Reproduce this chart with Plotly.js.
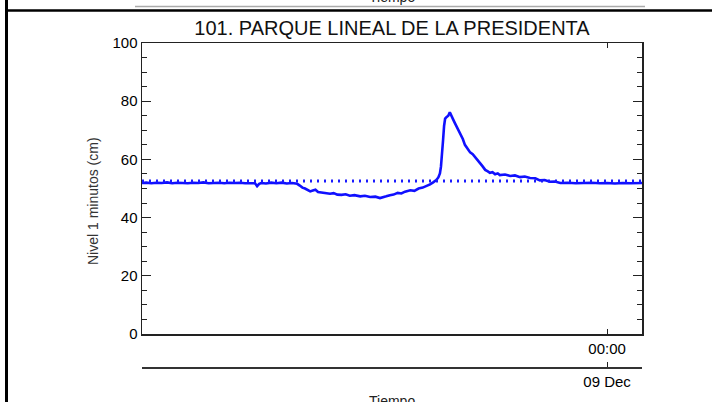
<!DOCTYPE html>
<html>
<head>
<meta charset="utf-8">
<script src="https://cdn.plot.ly/plotly-3.0.1.min.js"></script>
<style>html,body{margin:0;padding:0;background:#fff;}#chart{width:712px;height:402px;}</style>
</head>
<body>
<div id="chart"></div>
<script>
// ---- data ----
const tiempo = [
  "2023-12-08 09:07","2023-12-08 09:15","2023-12-08 09:25","2023-12-08 09:35","2023-12-08 09:45",
  "2023-12-08 09:55","2023-12-08 10:05","2023-12-08 10:15","2023-12-08 10:25","2023-12-08 10:35",
  "2023-12-08 10:45","2023-12-08 10:55","2023-12-08 11:05","2023-12-08 11:15","2023-12-08 11:25",
  "2023-12-08 11:35","2023-12-08 11:45","2023-12-08 11:55","2023-12-08 12:05","2023-12-08 12:15",
  "2023-12-08 12:25","2023-12-08 12:35","2023-12-08 12:44","2023-12-08 12:48","2023-12-08 12:52",
  "2023-12-08 12:56","2023-12-08 13:05","2023-12-08 13:15","2023-12-08 13:25","2023-12-08 13:35",
  "2023-12-08 13:45","2023-12-08 13:55","2023-12-08 14:05","2023-12-08 14:10","2023-12-08 14:15",
  "2023-12-08 14:20","2023-12-08 14:25","2023-12-08 14:30","2023-12-08 14:35","2023-12-08 14:40",
  "2023-12-08 14:45","2023-12-08 14:52","2023-12-08 15:00","2023-12-08 15:08","2023-12-08 15:15",
  "2023-12-08 15:22","2023-12-08 15:30","2023-12-08 15:38","2023-12-08 15:46","2023-12-08 15:55",
  "2023-12-08 16:06","2023-12-08 16:15","2023-12-08 16:25","2023-12-08 16:35","2023-12-08 16:44",
  "2023-12-08 16:50","2023-12-08 16:56","2023-12-08 17:03","2023-12-08 17:10","2023-12-08 17:18",
  "2023-12-08 17:25","2023-12-08 17:32","2023-12-08 17:42","2023-12-08 17:50","2023-12-08 17:58",
  "2023-12-08 18:06","2023-12-08 18:14","2023-12-08 18:20","2023-12-08 18:26","2023-12-08 18:32",
  "2023-12-08 18:36","2023-12-08 18:39","2023-12-08 18:41","2023-12-08 18:43","2023-12-08 18:45",
  "2023-12-08 18:47","2023-12-08 18:49","2023-12-08 18:52","2023-12-08 18:55","2023-12-08 18:58",
  "2023-12-08 19:01","2023-12-08 19:05","2023-12-08 19:08","2023-12-08 19:12","2023-12-08 19:18",
  "2023-12-08 19:23","2023-12-08 19:27","2023-12-08 19:32","2023-12-08 19:37","2023-12-08 19:42",
  "2023-12-08 19:46","2023-12-08 19:51","2023-12-08 19:56","2023-12-08 20:01","2023-12-08 20:06",
  "2023-12-08 20:11","2023-12-08 20:15","2023-12-08 20:20","2023-12-08 20:25","2023-12-08 20:30",
  "2023-12-08 20:34","2023-12-08 20:44","2023-12-08 20:54","2023-12-08 21:03","2023-12-08 21:13",
  "2023-12-08 21:22","2023-12-08 21:32","2023-12-08 21:42","2023-12-08 21:51","2023-12-08 22:00",
  "2023-12-08 22:10","2023-12-08 22:20","2023-12-08 22:30","2023-12-08 22:45","2023-12-08 23:00",
  "2023-12-08 23:15","2023-12-08 23:30","2023-12-08 23:46","2023-12-09 00:00","2023-12-09 00:15",
  "2023-12-09 00:30","2023-12-09 00:45","2023-12-09 01:07"
];
const nivel = [
  51.9, 52.0, 51.8, 52.0, 51.9,
  52.1, 51.8, 52.0, 51.9, 51.8,
  52.0, 51.9, 52.1, 51.8, 51.9,
  52.0, 51.8, 52.0, 51.9, 52.0,
  51.8, 51.9, 51.8, 50.8, 51.6,
  51.9, 51.7, 52.0, 51.8, 52.0,
  51.7, 51.9, 51.6, 51.0, 50.3,
  50.0, 49.5, 49.0, 49.3, 49.6,
  48.8, 48.6, 48.5, 48.2, 48.4,
  47.9, 47.8, 48.0, 47.5, 47.7,
  47.3, 47.5, 47.1, 47.2, 46.7,
  46.9, 47.3, 47.7, 47.9, 48.5,
  48.3, 48.9, 49.4, 49.2, 50.0,
  50.3, 50.8, 51.4, 52.1, 52.9,
  53.8, 55.2, 57.5, 61.0, 66.5,
  71.5, 74.0, 74.6, 75.0, 76.2,
  74.8, 73.5, 72.4, 71.0, 69.0,
  67.0, 65.0, 63.6, 62.4, 61.8,
  60.8, 59.8, 58.7, 57.6, 56.4,
  55.9, 55.4, 55.6, 54.9, 55.2,
  54.6, 54.8, 54.3, 54.5, 53.9,
  54.1, 53.6, 53.5, 52.8, 52.9,
  52.3, 52.4, 51.9, 52.0, 51.8,
  51.9, 52.0, 51.8, 51.9, 51.7,
  51.9, 51.8, 51.9
];
const referencia = [52.6, 52.6];
const rangoTiempo = ["2023-12-08 09:07", "2023-12-09 01:07"];
const ticksTiempo = ["2023-12-09 00:00"];
const etiquetaHora = ["00:00"];
const etiquetaDia = ["09 Dec"];

// ---- layout helpers (pixel -> paper) ----
const W = 712, H = 402, mL = 142, mR = 70, mT = 43, mB = 35;
const pw = W - mL - mR, ph = H - mT - mB;
const px = x => (x - mL) / pw;
const py = y => (H - mB - y) / ph;

const fam = "Liberation Sans, Arial, sans-serif";

const traces = [
  {x: rangoTiempo, y: referencia, xaxis: "x2", yaxis: "y", mode: "lines",
   line: {color: "#1a1aff", width: 3, dash: "2px,5px"}, hoverinfo: "skip"},
  {x: tiempo, y: nivel, xaxis: "x", yaxis: "y", mode: "lines",
   line: {color: "#1010ff", width: 2.6}}
];

const tickFont = {family: fam, size: 15, color: "#000"};

const layout = {
  width: W, height: H,
  margin: {l: mL, r: mR, t: mT, b: mB},
  paper_bgcolor: "#fff", plot_bgcolor: "#fff",
  showlegend: false,
  font: {family: fam, color: "#000"},
  title: {text: "101. PARQUE LINEAL DE LA PRESIDENTA", font: {family: fam, size: 20, color: "#111"},
          x: 0.5, xref: "paper", y: 1 - 28 / H, yref: "container", yanchor: "middle"},
  xaxis: {
    type: "date", range: rangoTiempo, domain: [0, 1], anchor: "y",
    tickmode: "array", tickvals: ticksTiempo, ticktext: etiquetaHora,
    ticks: "inside", ticklen: 5, tickwidth: 1, tickcolor: "#222",
    showline: true, linecolor: "#222", linewidth: 1.5, mirror: "ticks",
    showgrid: false, zeroline: false, tickfont: tickFont
  },
  xaxis2: {
    type: "date", range: rangoTiempo, overlaying: "x", anchor: "free", position: 0, side: "bottom",
    tickmode: "array", tickvals: ticksTiempo, ticktext: etiquetaDia,
    ticks: "inside", ticklen: 5, tickwidth: 1, tickcolor: "#222",
    showline: true, linecolor: "#333", linewidth: 1.5,
    showgrid: false, zeroline: false, tickfont: tickFont
  },
  yaxis: {
    range: [0, 100], domain: [py(334), 1], anchor: "x",
    tickmode: "linear", tick0: 0, dtick: 20,
    ticks: "inside", ticklen: 9, tickwidth: 1, tickcolor: "#222",
    minor: {dtick: 5, ticks: "inside", ticklen: 5, tickwidth: 1, tickcolor: "#222"},
    showline: true, linecolor: "#222", linewidth: 1.5, mirror: "ticks",
    showgrid: false, zeroline: false, tickfont: tickFont
  },
  annotations: [
    {text: "Nivel 1 minutos (cm)", xref: "paper", yref: "paper", x: px(93), y: py(201), textangle: -90,
     showarrow: false, xanchor: "center", yanchor: "middle", font: {family: fam, size: 14, color: "#333"}},
    {text: "Tiempo", xref: "paper", yref: "paper", x: px(392), y: py(401), showarrow: false,
     xanchor: "center", yanchor: "middle", font: {family: fam, size: 14, color: "#222"}},
    {text: "Tiempo", xref: "paper", yref: "paper", x: px(392), y: py(-3), showarrow: false,
     xanchor: "center", yanchor: "middle", font: {family: fam, size: 14, color: "#222"}}
  ],
  shapes: [
    {type: "line", xref: "paper", yref: "paper", x0: px(135), x1: px(645), y0: py(6.5), y1: py(6.5),
     line: {color: "#aaa", width: 1.5}},
    {type: "line", xref: "paper", yref: "paper", x0: px(5), x1: px(712), y0: py(10.5), y1: py(10.5),
     line: {color: "#000", width: 2.5}},
    {type: "line", xref: "paper", yref: "paper", x0: px(6.5), x1: px(6.5), y0: py(0), y1: py(402),
     line: {color: "#000", width: 3}}
  ]
};

Plotly.newPlot("chart", traces, layout, {staticPlot: true, displayModeBar: false});
</script>
</body>
</html>
